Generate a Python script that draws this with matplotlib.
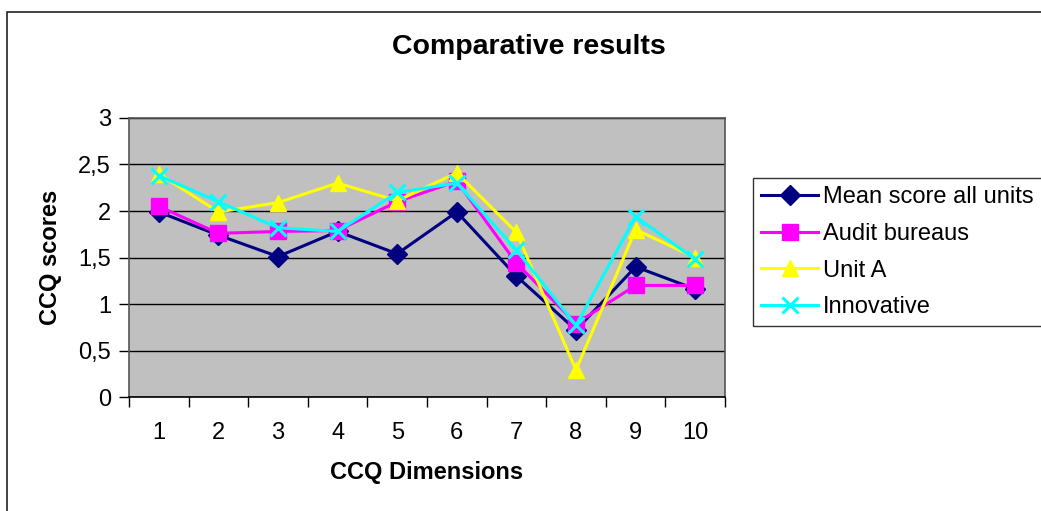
import matplotlib
matplotlib.use('Agg')
import matplotlib.pyplot as plt
from matplotlib.patches import Rectangle
from matplotlib.ticker import FuncFormatter, FixedLocator

plt.rcParams['font.family'] = ['Liberation Sans', 'DejaVu Sans']

# data
dimensions = [1, 2, 3, 4, 5, 6, 7, 8, 9, 10]
mean_all = [1.99, 1.74, 1.51, 1.78, 1.54, 1.99, 1.30, 0.72, 1.40, 1.16]
audit = [2.05, 1.76, 1.78, 1.79, 2.10, 2.32, 1.44, 0.79, 1.20, 1.20]
unit_a = [2.40, 1.99, 2.09, 2.30, 2.11, 2.41, 1.77, 0.29, 1.80, 1.50]
innovative = [2.38, 2.10, 1.82, 1.78, 2.20, 2.30, 1.58, 0.77, 1.94, 1.48]

series_names = ['Mean score all units', 'Audit bureaus', 'Unit A', 'Innovative']

W, H = 1041, 511
fig = plt.figure(figsize=(W / 100, H / 100), dpi=100)
ax = fig.add_axes([129 / W, 1 - 397 / H, (725 - 129) / W, (397 - 118) / H])
ax.set_facecolor('#C0C0C0')

# outer chart border (cut off at right and bottom)
fig.patches.append(Rectangle((7 / W, -0.05), 1.2, 1 - 12 / H + 0.05,
                             transform=fig.transFigure, fill=False,
                             edgecolor='#222222', linewidth=1.2))

styles = [
    dict(color='#000080', marker='D', markersize=10.5),
    dict(color='#FF00FF', marker='s', markersize=11),
    dict(color='#FFFF00', marker='^', markersize=12),
    dict(color='#00FFFF', marker='x', markersize=11, markeredgewidth=2.2),
]
for i, (vals, name, st) in enumerate(zip([mean_all, audit, unit_a, innovative],
                                          series_names, styles)):
    ax.plot(dimensions, vals, label=name, linewidth=2.2, zorder=3 + i, **st)

ax.set_xlim(0.5, 10.5)
ax.set_ylim(0, 3)

# horizontal gridlines
ax.set_yticks([0, 0.5, 1, 1.5, 2, 2.5, 3])
ax.yaxis.set_major_formatter(FuncFormatter(lambda v, p: ('%g' % v).replace('.', ',')))
ax.grid(axis='y', color='black', linewidth=1)
ax.set_axisbelow(True)

# category axis: labels centred, tick marks at boundaries
ax.set_xticks(dimensions)
ax.xaxis.set_minor_locator(FixedLocator([x + 0.5 for x in range(0, 11)]))
ax.tick_params(axis='x', which='major', length=0, pad=18, labelsize=17)
ax.tick_params(axis='x', which='minor', length=7, width=1, color='black')
ax.tick_params(axis='y', length=7, width=1, pad=6, labelsize=17)

for s in ax.spines.values():
    s.set_color('#555555')
    s.set_linewidth(1.2)
ax.spines['bottom'].set_color('black')

fig.text(529 / W, 1 - 47 / H, 'Comparative results', fontsize=20.5,
         fontweight='bold', ha='center', va='center')
fig.text(427 / W, 1 - 472 / H, 'CCQ Dimensions', fontsize=17,
         fontweight='bold', ha='center', va='center')
fig.text(50 / W, 1 - 257 / H, 'CCQ scores', fontsize=17, fontweight='bold',
         ha='center', va='center', rotation=90)

leg = ax.legend(loc='upper left', bbox_to_anchor=(753 / W, 1 - 322 / H, 0.5, (322 - 178) / H),
                bbox_transform=fig.transFigure, mode='expand', borderaxespad=0,
                fontsize=17, frameon=True, fancybox=False, handlelength=2.4,
                handletextpad=0.2, labelspacing=0.62, borderpad=0.35)
leg.get_frame().set_edgecolor('black')
leg.get_frame().set_linewidth(1)

fig.savefig('out.png', dpi=100)
